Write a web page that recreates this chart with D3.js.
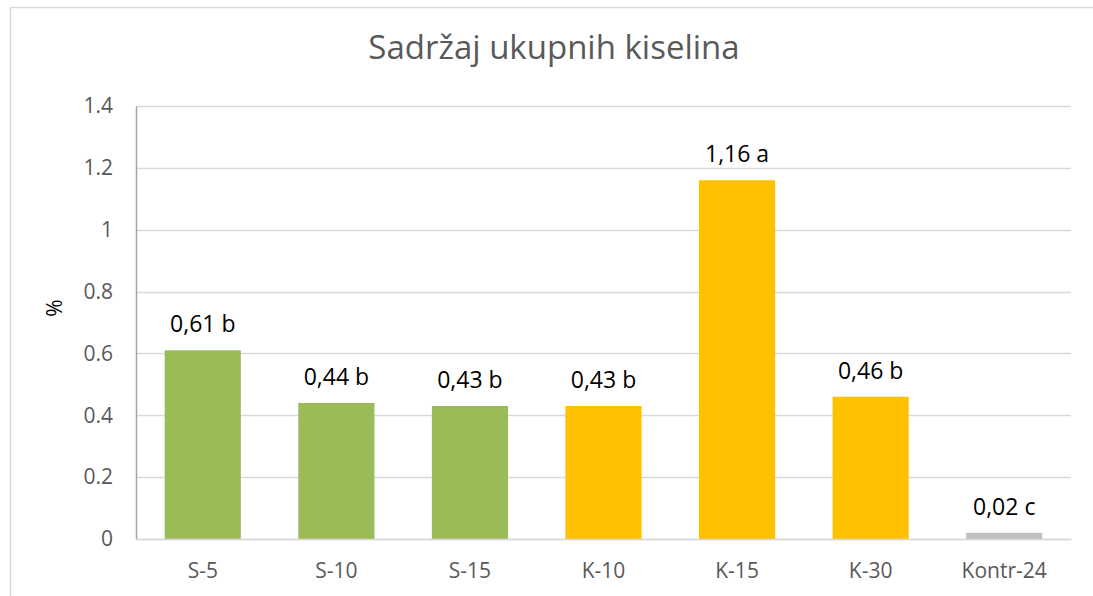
<!DOCTYPE html>
<html>
<head>
<meta charset="utf-8">
<script src="https://cdn.jsdelivr.net/npm/d3@7"></script>
<style>
  body { margin: 0; background: #fff; }
  text { font-family: "Open Sans", sans-serif; }
</style>
</head>
<body>
<div class="chart"></div>
<script>
var categories = ["S-5", "S-10", "S-15", "K-10", "K-15", "K-30", "Kontr-24"];
var values = [0.61, 0.44, 0.43, 0.43, 1.16, 0.46, 0.02];
var labels = ["0,61 b", "0,44 b", "0,43 b", "0,43 b", "1,16 a", "0,46 b", "0,02 c"];
var groups = ["S", "S", "S", "K", "K", "K", "C"];
var yTicks = [0, 0.2, 0.4, 0.6, 0.8, 1, 1.2, 1.4];

var width = 1093,
    height = 596,
    margin = {top: 106, right: 22, bottom: 57, left: 136};

var color = d3.scaleOrdinal()
    .domain(["S", "K", "C"])
    .range(["#9BBB59", "#FFC000", "#BFBFBF"]);

var svg = d3.select(".chart").append("svg")
    .attr("width", width)
    .attr("height", height);

// outer chart border (only left and top are visible)
svg.append("path")
    .attr("d", "M10.5," + height + "V7.5H" + width)
    .attr("fill", "none")
    .attr("stroke", "#D9D9D9")
    .attr("stroke-width", 1.5);

var x = d3.scaleBand()
    .domain(categories)
    .range([margin.left, width - margin.right])
    .paddingInner(0.43)
    .paddingOuter(0.215);

var y = d3.scaleLinear()
    .domain([0, 1.4])
    .range([height - margin.bottom, margin.top]);

// gridlines
svg.append("g").selectAll("line")
    .data(yTicks)
    .enter().append("line")
    .attr("x1", margin.left)
    .attr("x2", width - margin.right)
    .attr("y1", function(d) { return Math.round(y(d)) + 0.5; })
    .attr("y2", function(d) { return Math.round(y(d)) + 0.5; })
    .attr("stroke", "#D9D9D9")
    .attr("stroke-width", 1.3);

// y axis
var yAxis = svg.append("g")
    .attr("transform", "translate(" + margin.left + ",0)")
    .call(d3.axisLeft(y).tickValues(yTicks).tickSize(0).tickPadding(23)
        .tickFormat(function(d) { return String(d); }));
yAxis.select(".domain").attr("stroke", "#A6A6A6").attr("stroke-width", 1.5);
yAxis.selectAll("text")
    .style("font-size", "21px")
    .style("fill", "#595959")
    .style("font-family", "'Open Sans', sans-serif");

// bars
svg.append("g").selectAll("rect")
    .data(values)
    .enter().append("rect")
    .attr("x", function(d, i) { return x(categories[i]); })
    .attr("y", function(d) { return y(d); })
    .attr("width", x.bandwidth())
    .attr("height", function(d) { return y(0) - y(d); })
    .attr("fill", function(d, i) { return color(groups[i]); });

// x axis
var xAxis = svg.append("g")
    .attr("transform", "translate(0," + y(0) + ")")
    .call(d3.axisBottom(x).tickSize(0).tickPadding(24));
xAxis.select(".domain").attr("stroke", "#D9D9D9").attr("stroke-width", 1.5);
xAxis.selectAll("text")
    .style("font-size", "21px")
    .style("fill", "#595959")
    .style("font-family", "'Open Sans', sans-serif");

// data labels
svg.append("g").selectAll("text")
    .data(values)
    .enter().append("text")
    .attr("x", function(d, i) { return x(categories[i]) + x.bandwidth() / 2; })
    .attr("y", function(d) { return y(d) - 18; })
    .attr("text-anchor", "middle")
    .style("font-size", "23px")
    .style("fill", "#000")
    .text(function(d, i) { return labels[i]; });

// title
svg.append("text")
    .attr("x", 554)
    .attr("y", 59)
    .attr("text-anchor", "middle")
    .style("font-size", "33px")
    .style("fill", "#595959")
    .text("Sadržaj ukupnih kiselina");

// y axis title
svg.append("text")
    .attr("transform", "translate(62,308) rotate(-90)")
    .attr("text-anchor", "middle")
    .style("font-size", "21px")
    .style("fill", "#000")
    .text("%");
</script>
</body>
</html>
